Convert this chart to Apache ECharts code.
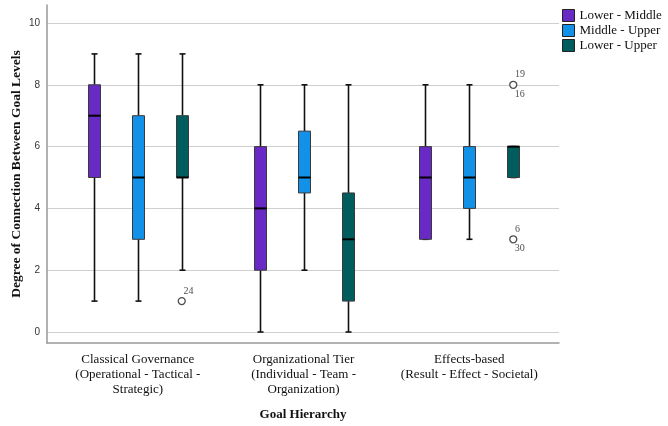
<!DOCTYPE html>
<html>
<head>
<meta charset="utf-8">
<script src="https://cdn.jsdelivr.net/npm/echarts@6/dist/echarts.min.js"></script>
<style>
  html, body { margin: 0; padding: 0; background: #fff; }
  #chart { width: 668px; height: 426px; }
</style>
</head>
<body>
<div id="chart"></div>
<script>
// Goal hierarchy frameworks on the x axis
const categories = [
  'Classical Governance\n(Operational - Tactical -\nStrategic)',
  'Organizational Tier\n(Individual - Team -\nOrganization)',
  'Effects-based\n(Result - Effect - Societal)'
];
const seriesNames = ['Lower - Middle', 'Middle - Upper', 'Lower - Upper'];
const yTicks = [0, 2, 4, 6, 8, 10];

// Five-number summaries per category: [min, q1, median, q3, max]
const lowerMiddle = [[1, 5, 7, 8, 9], [0, 2, 4, 6, 8], [3, 3, 5, 6, 8]];
const middleUpper = [[1, 3, 5, 7, 9], [2, 4.5, 5, 6.5, 8], [3, 4, 5, 6, 8]];
const lowerUpper  = [[2, 5, 5, 7, 9], [0, 1, 3, 4.5, 8], [5, 5, 6, 6, 6]];

// Outliers of the Lower - Upper series: [category, value, case above, case below]
const lowerUpperOutliers = [[0, 1, '24', ''], [2, 8, '19', '16'], [2, 3, '6', '30']];

const colors = ['#6929c4', '#1192e8', '#005d5d'];
const groupOffset = 0.265;
const xMin = -0.548, xMax = 2.541;
const serif = '"Liberation Serif", "Times New Roman", serif';
const sans = '"Liberation Sans", Arial, sans-serif';

function boxSeries(name, stats, color, offset) {
  return {
    name: name,
    type: 'custom',
    xAxisIndex: 1,
    yAxisIndex: 1,
    itemStyle: { color: color, borderColor: '#333', borderWidth: 1 },
    data: stats.map((s, i) => [i].concat(s)),
    renderItem: function (params, api) {
      const x = api.value(0) + offset;
      const pMin = api.coord([x, api.value(1)]);
      const pQ1 = api.coord([x, api.value(2)]);
      const pMed = api.coord([x, api.value(3)]);
      const pQ3 = api.coord([x, api.value(4)]);
      const pMax = api.coord([x, api.value(5)]);
      const cx = Math.round(pMin[0]) + 0.5;
      const half = 6, cap = 3;
      const stroke = { stroke: '#111', lineWidth: 1.6 };
      return {
        type: 'group',
        children: [
          { type: 'line', shape: { x1: cx, y1: pQ3[1], x2: cx, y2: pMax[1] }, style: stroke },
          { type: 'line', shape: { x1: cx, y1: pQ1[1], x2: cx, y2: pMin[1] }, style: stroke },
          { type: 'line', shape: { x1: cx - cap, y1: pMax[1], x2: cx + cap, y2: pMax[1] }, style: stroke },
          { type: 'line', shape: { x1: cx - cap, y1: pMin[1], x2: cx + cap, y2: pMin[1] }, style: stroke },
          {
            type: 'rect',
            shape: { x: cx - half, y: pQ3[1], width: half * 2, height: pQ1[1] - pQ3[1] },
            style: { fill: color, stroke: '#3a3a3a', lineWidth: 1 }
          },
          {
            type: 'line',
            shape: { x1: cx - half, y1: pMed[1], x2: cx + half, y2: pMed[1] },
            style: { stroke: '#000', lineWidth: 2 }
          }
        ]
      };
    }
  };
}

const outlierData = lowerUpperOutliers.map(o => [o[0] + groupOffset, o[1], o[2], o[3]]);

const chart = echarts.init(document.getElementById('chart'), null, { renderer: 'canvas' });
chart.setOption({
  animation: false,
  backgroundColor: '#fff',
  legend: {
    data: seriesNames,
    orient: 'vertical',
    left: 557,
    top: 4,
    itemWidth: 12,
    itemHeight: 12,
    itemGap: 2,
    icon: 'rect',
    itemStyle: { borderColor: '#222', borderWidth: 1 },
    textStyle: { fontFamily: serif, fontSize: 13, color: '#111' }
  },
  grid: [
    { left: 47, right: 109, top: 5, bottom: 78 },
    { left: 47, right: 109, top: 23, bottom: 94 }
  ],
  xAxis: [
    {
      gridIndex: 0,
      type: 'value',
      min: xMin,
      max: xMax,
      axisLine: { show: true, onZero: false, lineStyle: { color: '#999', width: 1.5 } },
      axisTick: { show: false },
      splitLine: { show: false },
      axisLabel: {
        customValues: [0, 1, 2],
        formatter: v => categories[Math.round(v)],
        fontFamily: serif,
        fontSize: 13,
        color: '#111',
        lineHeight: 15,
        margin: 9,
        align: 'center'
      },
      name: 'Goal Hierarchy',
      nameLocation: 'middle',
      nameGap: 65,
      nameTextStyle: { fontFamily: serif, fontSize: 13, fontWeight: 'bold', color: '#111' }
    },
    {
      gridIndex: 1,
      type: 'value',
      min: xMin,
      max: xMax,
      show: false
    }
  ],
  yAxis: [
    {
      gridIndex: 0,
      type: 'value',
      min: 0,
      max: 1,
      axisLine: { show: true, onZero: false, lineStyle: { color: '#999', width: 1.5 } },
      axisTick: { show: false },
      axisLabel: { show: false },
      splitLine: { show: false },
      name: 'Degree of Connection Between Goal Levels',
      nameLocation: 'middle',
      nameGap: 23,
      nameTextStyle: { fontFamily: serif, fontSize: 13.5, fontWeight: 'bold', color: '#111' }
    },
    {
      gridIndex: 1,
      type: 'value',
      min: yTicks[0],
      max: yTicks[yTicks.length - 1],
      interval: 2,
      axisLine: { show: false },
      axisTick: { show: false },
      axisLabel: { fontFamily: sans, fontSize: 10, color: '#333', margin: 7 },
      splitLine: { show: true, lineStyle: { color: '#cfcfcf', width: 1.2 } }
    }
  ],
  series: [
    boxSeries(seriesNames[0], lowerMiddle, colors[0], -groupOffset),
    boxSeries(seriesNames[1], middleUpper, colors[1], 0),
    boxSeries(seriesNames[2], lowerUpper, colors[2], groupOffset),
    {
      name: 'outliers',
      type: 'scatter',
      xAxisIndex: 1,
      yAxisIndex: 1,
      symbol: 'circle',
      symbolSize: 7,
      itemStyle: { color: '#fff', borderColor: '#222', borderWidth: 1.3 },
      label: {
        show: true,
        position: [6, -11],
        formatter: p => p.value[2],
        fontFamily: serif,
        fontSize: 10,
        color: '#222'
      },
      data: outlierData,
      z: 5
    },
    {
      name: 'outlier cases below',
      type: 'scatter',
      xAxisIndex: 1,
      yAxisIndex: 1,
      symbol: 'circle',
      symbolSize: 7,
      itemStyle: { color: 'rgba(0,0,0,0)', borderWidth: 0 },
      label: {
        show: true,
        position: [5, 8],
        formatter: p => p.value[3],
        fontFamily: serif,
        fontSize: 10,
        color: '#222'
      },
      data: outlierData,
      z: 5
    }
  ]
});
</script>
</body>
</html>
